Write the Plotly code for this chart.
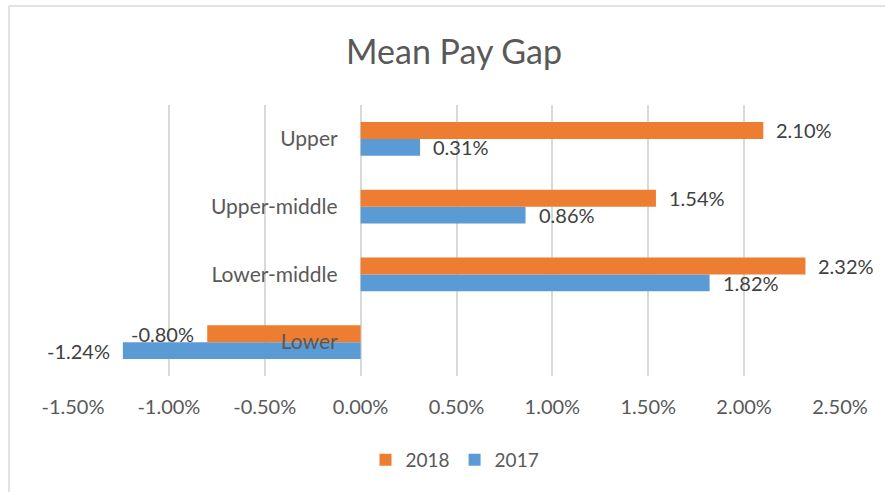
import plotly.graph_objects as go

categories = ["Lower", "Lower-middle", "Upper-middle", "Upper"]
values_2018 = [-0.80, 2.32, 1.54, 2.10]
values_2017 = [-1.24, 1.82, 0.86, 0.31]
tick_vals = [-1.5, -1.0, -0.5, 0.0, 0.5, 1.0, 1.5, 2.0, 2.5]
tick_text = [f"{v:.2f}%" for v in tick_vals]

C18 = "#ED7D31"
C17 = "#5B9BD5"
FONT = "Lato, Carlito, 'Liberation Sans', sans-serif"
TXT = "#595959"

fig = go.Figure()
fig.add_trace(go.Bar(y=categories, x=values_2017, orientation="h", name="2017",
                     marker=dict(color=C17, line=dict(width=0))))
fig.add_trace(go.Bar(y=categories, x=values_2018, orientation="h", name="2018",
                     marker=dict(color=C18, line=dict(width=0))))

ann = []
for series, vals, ysh in (("2018", values_2018, 8.5), ("2017", values_2017, -8.5)):
    for c, v in zip(categories, vals):
        pos = v >= 0
        ann.append(dict(x=v, y=c, xref="x", yref="y", text=f"{v:.2f}%",
                        showarrow=False, xanchor="left" if pos else "right",
                        xshift=11 if pos else -11, yshift=ysh,
                        font=dict(family=FONT, size=20, color="#404040")))

FW, FH = 885, 492
L, T, W, H = 73, 105, 767, 271
def px(xp): return (xp - L) / W
def py(yp): return (T + H - yp) / H
shapes = [
    dict(type="line", xref="paper", yref="paper", x0=px(9), x1=px(900), y0=py(6), y1=py(6),
         line=dict(color="#D9D9D9", width=1.5)),
    dict(type="line", xref="paper", yref="paper", x0=px(9), x1=px(9), y0=py(6), y1=py(520),
         line=dict(color="#D9D9D9", width=1.5)),
]

fig.update_layout(
    width=FW, height=FH,
    margin=dict(l=L, r=FW - L - W, t=T, b=FH - T - H),
    paper_bgcolor="white", plot_bgcolor="white",
    barmode="group", bargap=0.5, bargroupgap=0,
    title=dict(text="Mean Pay Gap", x=454 / FW, xanchor="center",
               y=1 - 52 / FH, yanchor="middle", yref="container",
               font=dict(family=FONT, size=34, color=TXT)),
    font=dict(family=FONT, color=TXT),
    xaxis=dict(range=[-1.5, 2.5], tickvals=tick_vals, ticktext=tick_text,
               showgrid=True, gridcolor="#D9D9D9", gridwidth=1.5,
               zeroline=False, showline=False, ticks="",
               ticklabelstandoff=17,
               tickfont=dict(family=FONT, size=20, color=TXT), fixedrange=True),
    yaxis=dict(categoryorder="array", categoryarray=categories,
               anchor="free", position=1.5 / 4.0, showgrid=False, zeroline=False,
               showline=False, ticks="", ticklabelstandoff=23,
               tickfont=dict(family=FONT, size=21, color=TXT), fixedrange=True),
    legend=dict(orientation="h", x=px(455), xanchor="center", y=py(460), yanchor="middle",
                traceorder="reversed", font=dict(family=FONT, size=19, color=TXT),
                itemwidth=30),
    annotations=ann,
    shapes=shapes,
)

fig.write_html("out.html", config={"displayModeBar": False},
               post_script="document.body.style.margin='0';document.body.style.overflow='hidden';")
